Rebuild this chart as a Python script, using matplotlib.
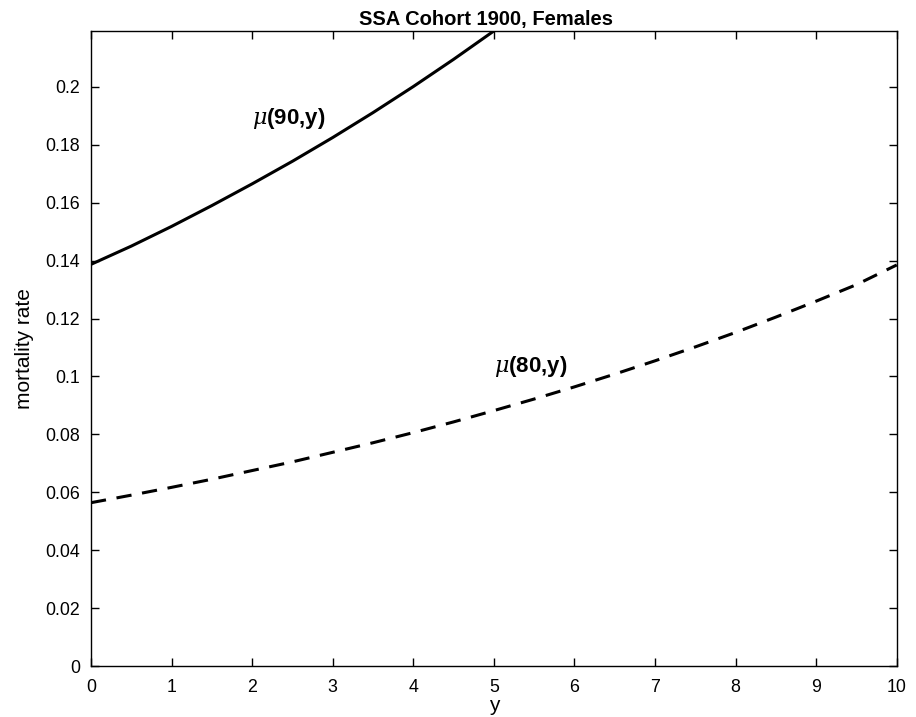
import matplotlib
matplotlib.use("Agg")
import matplotlib.pyplot as plt

plt.rcParams['font.family'] = ['Liberation Sans', 'DejaVu Sans']
plt.rcParams['mathtext.fontset'] = 'custom'
plt.rcParams['mathtext.it'] = 'DejaVu Serif:italic'
plt.rcParams['mathtext.rm'] = 'Liberation Sans'

# years ahead
y_80 = [0, 0.5, 1, 1.5, 2, 2.5, 3, 3.5, 4, 4.5, 5, 5.5, 6, 6.5, 7, 7.5, 8, 8.5, 9, 9.5, 10]
mu_80 = [0.0564, 0.0590, 0.0617, 0.0645, 0.0675, 0.0705, 0.0738, 0.0771, 0.0806, 0.0843,
         0.0882, 0.0922, 0.0964, 0.1008, 0.1054, 0.1102, 0.1152, 0.1205, 0.1260, 0.1317, 0.1385]
y_90 = [0, 0.5, 1, 1.5, 2, 2.5, 3, 3.5, 4, 4.5, 5]
mu_90 = [0.1387, 0.1450, 0.1518, 0.1590, 0.1665, 0.1743, 0.1825, 0.1911, 0.2001, 0.2095, 0.2193]

fig = plt.figure(figsize=(9.16, 7.17), dpi=100)
ax = fig.add_axes([0.0993, 0.0711, 0.8797, 0.8857])

ax.plot(y_90, mu_90, color='black', lw=2.2, solid_capstyle='butt')
ax.plot(y_80, mu_80, color='black', lw=2.2, dashes=(5, 3.5))

ax.text(2.0, 0.189, r'$\mu$(90,y)', fontsize=16, fontweight='bold', va='center')
ax.text(5.0, 0.1036, r'$\mu$(80,y)', fontsize=16, fontweight='bold', va='center')

ax.set_xlim(0, 10)
ax.set_ylim(0, 0.2193)
ax.set_xticks(range(0, 11))
yt = [0, 0.02, 0.04, 0.06, 0.08, 0.1, 0.12, 0.14, 0.16, 0.18, 0.2]
ax.set_yticks(yt)
ax.set_yticklabels(['0', '0.02', '0.04', '0.06', '0.08', '0.1', '0.12', '0.14', '0.16', '0.18', '0.2'])
ax.tick_params(direction='in', top=True, right=True, length=6, width=1, labelsize=12.8)
ax.tick_params(axis='x', pad=9)
ax.tick_params(axis='y', pad=8)
for s in ax.spines.values():
    s.set_linewidth(1)

ax.set_xlabel('y', fontsize=15, labelpad=0)
ax.set_ylabel('mortality rate', fontsize=15, labelpad=8)
ax.set_title('SSA Cohort 1900, Females', fontsize=14.5, fontweight='bold', pad=4, x=0.49)

fig.savefig('out.png', dpi=100)
